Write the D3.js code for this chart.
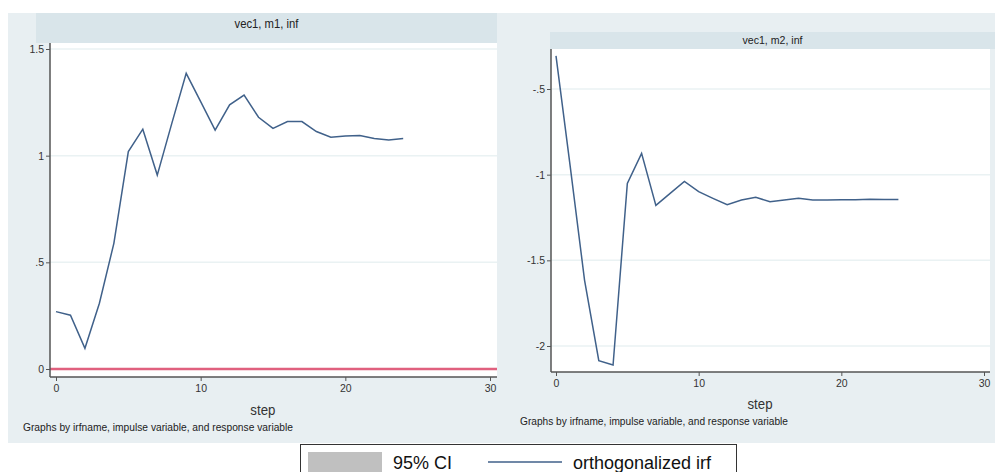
<!DOCTYPE html>
<html><head><meta charset="utf-8">
<script src="https://cdn.jsdelivr.net/npm/d3@7"></script>
<style>body{margin:0;background:#fff}svg{display:block}text{font-family:"Liberation Sans",Arial,sans-serif}</style>
</head><body>
<script>
const steps = [0,1,2,3,4,5,6,7,8,9,10,11,12,13,14,15,16,17,18,19,20,21,22,23,24];
const irfM1 = [0.269,0.252,0.097,0.308,0.589,1.019,1.124,0.909,1.15,1.386,1.253,1.120,1.238,1.284,1.180,1.128,1.160,1.160,1.113,1.086,1.092,1.094,1.081,1.073,1.080];
const irfM2 = [-0.307,-0.955,-1.615,-2.086,-2.111,-1.051,-0.876,-1.179,-1.109,-1.039,-1.099,-1.138,-1.175,-1.148,-1.132,-1.158,-1.148,-1.138,-1.148,-1.148,-1.146,-1.146,-1.144,-1.145,-1.145];
const titles = ["vec1, m1, inf","vec1, m2, inf"];
const xTicks = [0,10,20,30];
const xTickLabels = ["0","10","20","30"];
const yTicksL = [0,0.5,1,1.5];
const yTickLabelsL = ["0",".5","1","1.5"];
const yTicksR = [-2,-1.5,-1,-0.5];
const yTickLabelsR = ["-2","-1.5","-1","-.5"];
const xTitle = "step";
const note = "Graphs by irfname, impulse variable, and response variable";
const legendLabels = ["95% CI","orthogonalized irf"];

const W=995,H=472;
const svg=d3.select("body").append("svg").attr("width",W).attr("height",H);
const BG="#e8eff2", STRIP="#d9e5ea", LINE="#40618a", AX="#555";

const panels=[
 {bg:[8,13,492,430], strip:[36,13,461,30], titleSize:13, titleW:64, titleY:28,
  plot:[50,43,447,334], x:d3.scaleLinear([0,30],[56,490]), y:d3.scaleLinear([0,1.5],[369,49]),
  yt:yTicksL, ytl:yTickLabelsL, data:irfM1, zero:true, stepY:415, noteX:23, noteY:431, noteW:270},
 {bg:[500,13,495,430], strip:[550,32,445,17], titleSize:11, titleW:60, titleY:44,
  plot:[551,49,439,323], x:d3.scaleLinear([0,30],[556,984]), y:d3.scaleLinear([-2,-0.5],[346,89]),
  yt:yTicksR, ytl:yTickLabelsR, data:irfM2, zero:false, stepY:409, noteX:520, noteY:425, noteW:268}
];

panels.forEach((p,pi)=>{
  const g=svg.append("g");
  g.append("rect").attr("x",p.bg[0]).attr("y",p.bg[1]).attr("width",p.bg[2]).attr("height",p.bg[3]).attr("fill",BG);
  g.append("rect").attr("x",p.strip[0]).attr("y",p.strip[1]).attr("width",p.strip[2]).attr("height",p.strip[3]).attr("fill",STRIP);
  const [px,py,pw,ph]=p.plot;
  g.append("rect").attr("x",px).attr("y",py).attr("width",pw).attr("height",ph).attr("fill","#fff");
  const cx=p.strip[0]+p.strip[2]/2;
  g.append("text").attr("x",cx-p.titleW/2).attr("y",p.titleY)
    .attr("font-size",p.titleSize).attr("fill","#222")
    .attr("textLength",p.titleW).attr("lengthAdjust","spacingAndGlyphs").text(titles[pi]);
  // grid
  g.selectAll(".grid").data(p.yt).join("line").attr("x1",px).attr("x2",px+pw)
    .attr("y1",d=>p.y(d)).attr("y2",d=>p.y(d)).attr("stroke","#eaf2f3").attr("stroke-width",1.5);
  if(p.zero){
    g.append("line").attr("x1",px).attr("x2",px+pw).attr("y1",p.y(0)).attr("y2",p.y(0))
      .attr("stroke","#e0607e").attr("stroke-width",2.5);
  }
  // axes
  const ya=d3.axisLeft(p.y).tickValues(p.yt).tickFormat((d,i)=>p.ytl[i]).tickSize(4).tickPadding(2);
  const yg=g.append("g").attr("transform",`translate(${px},0)`).call(ya);
  yg.select(".domain").remove();
  yg.selectAll("line").attr("stroke",AX);
  yg.selectAll("text").attr("font-size",10.5).attr("fill","#333").attr("font-family","Liberation Sans, Arial, sans-serif");
  const xa=d3.axisBottom(p.x).tickValues(xTicks).tickFormat((d,i)=>xTickLabels[i]).tickSize(4).tickPadding(4);
  const xg=g.append("g").attr("transform",`translate(0,${py+ph})`).call(xa);
  xg.select(".domain").remove();
  xg.selectAll("line").attr("stroke",AX);
  xg.selectAll("text").attr("font-size",10.5).attr("fill","#333").attr("font-family","Liberation Sans, Arial, sans-serif");
  g.append("line").attr("x1",px).attr("x2",px).attr("y1",py).attr("y2",py+ph).attr("stroke",AX).attr("stroke-width",1.5);
  g.append("line").attr("x1",px).attr("x2",px+pw).attr("y1",py+ph).attr("y2",py+ph).attr("stroke",AX).attr("stroke-width",1.5);
  // line
  const line=d3.line().x((d,i)=>p.x(steps[i])).y(d=>p.y(d));
  g.append("path").datum(p.data).attr("d",line).attr("fill","none").attr("stroke",LINE).attr("stroke-width",1.5);
  // titles
  g.append("text").attr("x",p.x(14.3)).attr("y",p.stepY).attr("text-anchor","middle").attr("font-size",14).attr("fill","#333")
    .attr("textLength",25).attr("lengthAdjust","spacingAndGlyphs").text(xTitle);
  g.append("text").attr("x",p.noteX).attr("y",p.noteY).attr("font-size",10).attr("fill","#222")
    .attr("textLength",p.noteW).attr("lengthAdjust","spacingAndGlyphs").text(note);
});

// legend
const lg=svg.append("g");
lg.append("rect").attr("x",300.5).attr("y",444.5).attr("width",436).attr("height",32).attr("fill","#fff").attr("stroke","#333").attr("stroke-width",1);
lg.append("rect").attr("x",308).attr("y",452).attr("width",74).attr("height",20).attr("fill","#c0c0c0");
lg.append("text").attr("x",393).attr("y",469).attr("font-size",18).attr("fill","#111").text(legendLabels[0]);
lg.append("line").attr("x1",488).attr("x2",562).attr("y1",462).attr("y2",462).attr("stroke",LINE).attr("stroke-width",1.5);
lg.append("text").attr("x",573).attr("y",469).attr("font-size",18).attr("fill","#111").text(legendLabels[1]);
</script>
</body></html>
